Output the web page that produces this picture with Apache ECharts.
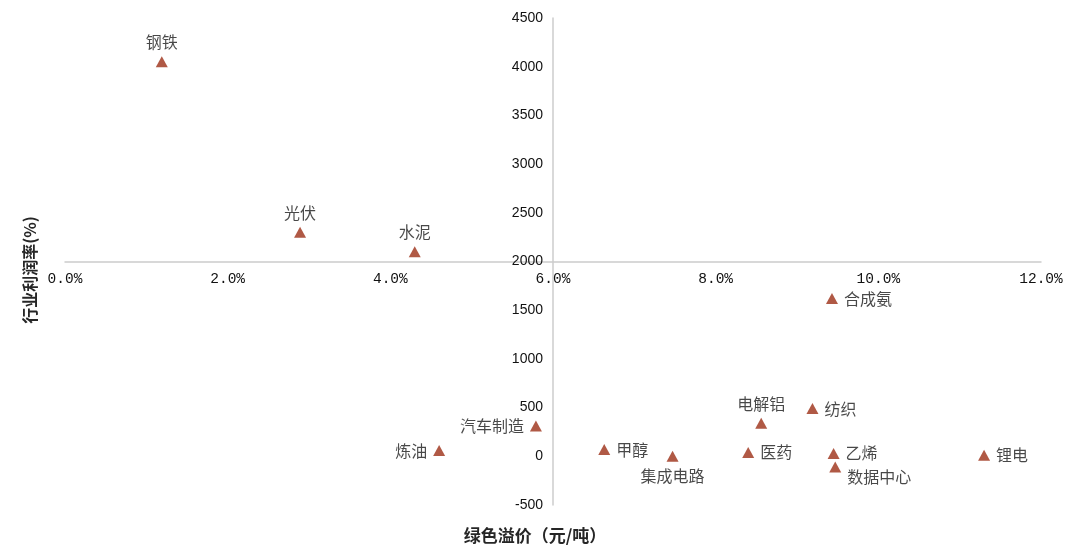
<!DOCTYPE html>
<html>
<head>
<meta charset="utf-8">
<script src="https://cdn.jsdelivr.net/npm/echarts@6/dist/echarts.min.js"></script>
<style>
  html, body { margin: 0; padding: 0; background: #fff; }
  #chart { width: 1080px; height: 555px; }
</style>
</head>
<body>
<div id="chart"></div>
<script>
// industries, x = percent, y = value
const names = ['钢铁', '光伏', '水泥', '合成氨', '电解铝', '纺织', '汽车制造',
               '炼油', '甲醇', '集成电路', '医药', '乙烯', '数据中心', '锂电'];
const xVals = [1.19, 2.89, 4.30, 9.43, 8.56, 9.19, 5.79, 4.60, 6.63, 7.47, 8.40, 9.45, 9.47, 11.30];
const yVals = [4050, 2300, 2100, 1620, 340, 490, 310, 60, 70, 0, 40, 30, -110, 10];
const labelPos = ['top', 'top', 'top', 'right', 'top', 'right', 'left',
                  'left', 'right', 'bottom', 'right', 'right', 'right', 'right'];

const xTicks = { min: 0, max: 12, interval: 2 };
const yTicks = { min: -500, max: 4500, interval: 500 };
const xCross = 6;     // y axis crosses at 6.0%
const yCross = 2000;  // x axis crosses at 2000

const markColor = '#9C2F17';
const axisGray = '#cccccc';

let points = names.map((n, i) => {
    let p = {
        name: n,
        value: [xVals[i], yVals[i]],
        label: { position: labelPos[i] }
    };
    if (n === '数据中心') p.label.offset = [0, 10];
    return p;
});

let chart = echarts.init(document.getElementById('chart'));
chart.setOption({
    animation: false,
    grid: { left: 65, right: 39, top: 18, bottom: 50 },
    xAxis: {
        type: 'value',
        min: xTicks.min, max: xTicks.max, interval: xTicks.interval,
        splitLine: { show: false },
        axisTick: { show: false },
        axisLine: { show: true, onZero: false,
                    lineStyle: { color: axisGray, width: 1.5 } },
        axisLabel: {
            margin: 10,
            color: '#111',
            fontSize: 14.5,
            fontFamily: 'Liberation Mono',
            formatter: v => v.toFixed(1) + '%'
        }
    },
    yAxis: {
        type: 'value',
        min: yTicks.min, max: yTicks.max, interval: yTicks.interval,
        splitLine: { show: false },
        axisTick: { show: false },
        axisLine: { show: true, onZero: false,
                    lineStyle: { color: axisGray, width: 1.5 } },
        axisLabel: {
            margin: 10,
            color: '#111',
            fontSize: 14,
            fontFamily: 'Liberation Sans',
            formatter: v => String(v)
        }
    },
    graphic: [
        {
            type: 'text', x: 30, y: 270, rotation: Math.PI / 2,
            style: { text: '行业利润率(%)', font: 'bold 16px "Noto Sans CJK SC"', fill: '#262626',
                     align: 'center', verticalAlign: 'middle' }
        },
        {
            type: 'text', x: 535, y: 536,
            style: { text: '绿色溢价（元/吨）', font: 'bold 17px "Noto Sans CJK SC"', fill: '#262626',
                     align: 'center', verticalAlign: 'middle' }
        }
    ],
    series: [{
        type: 'scatter',
        symbol: 'triangle',
        symbolSize: [12, 11],
        itemStyle: { color: markColor },
        label: {
            show: true,
            formatter: '{b}',
            distance: 6,
            color: '#1a1a1a',
            fontSize: 16,
            fontFamily: 'Noto Sans CJK SC'
        },
        data: points
    }]
});

// move the axes so they cross at (xCross, yCross)
let yAt = chart.convertToPixel({ yAxisIndex: 0 }, yCross);
let yBottom = chart.convertToPixel({ yAxisIndex: 0 }, yTicks.min);
let xAt = chart.convertToPixel({ xAxisIndex: 0 }, xCross);
let xLeft = chart.convertToPixel({ xAxisIndex: 0 }, xTicks.min);
chart.setOption({
    xAxis: { offset: -(yBottom - yAt) },
    yAxis: { offset: -(xAt - xLeft) }
});
</script>
</body>
</html>
